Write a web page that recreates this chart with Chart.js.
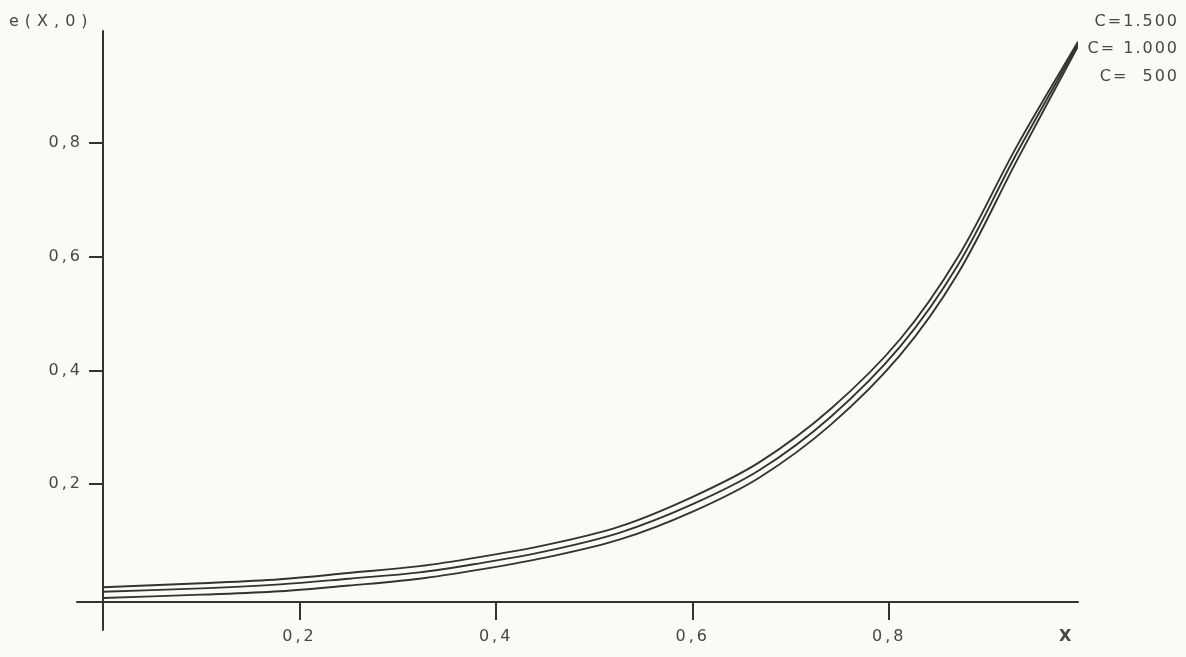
<!DOCTYPE html>
<html><head><meta charset="utf-8">
<script src="https://cdn.jsdelivr.net/npm/chart.js@4/dist/chart.umd.min.js"></script>
<style>
html,body{margin:0;padding:0;background:#fbfbf6;}
#wrap{width:1186px;height:657px;position:relative;}
</style>
</head><body>
<div id="wrap"><canvas id="c" width="1186" height="657"></canvas></div>
<script>
// ---- data ----
const xValues   = [0, 0.1, 0.18, 0.25, 0.322, 0.383, 0.45, 0.526, 0.6, 0.668, 0.74, 0.811, 0.87, 0.93, 0.992];
const seriesC1500 = [0.019, 0.026, 0.033, 0.044, 0.056, 0.072, 0.093, 0.126, 0.178, 0.239, 0.332, 0.455, 0.600, 0.795, 0.978];
const seriesC1000 = [0.011, 0.017, 0.024, 0.034, 0.045, 0.061, 0.082, 0.115, 0.165, 0.225, 0.318, 0.442, 0.586, 0.783, 0.974];
const seriesC500  = [0.000, 0.006, 0.012, 0.022, 0.034, 0.050, 0.071, 0.103, 0.152, 0.212, 0.304, 0.427, 0.571, 0.770, 0.970];
const seriesLabels = ['C=1.500', 'C= 1.000', 'C=  500'];
const xTicks = [0.2, 0.4, 0.6, 0.8];
const yTicks = [0.2, 0.4, 0.6, 0.8];
const yAxisTitle = 'e(X,0)';
const xAxisTitle = 'X';

const INK = '#333333';
const TEXT = '#474747';
const FONT = 'DejaVu Sans';
const fmt = v => Number(v).toFixed(1).replace('.', ',');
const toPts = ys => xValues.map((x, i) => ({x: x, y: ys[i]}));

const ds = (label, ys) => ({
  label: label, data: toPts(ys), borderColor: INK, borderWidth: 1.9,
  pointRadius: 0, fill: false, tension: 0.35
});

const spacing = {
  id: 'spacing',
  beforeInit(chart) { chart.ctx.letterSpacing = '3px'; },
  beforeDraw(chart) { chart.ctx.letterSpacing = '3px'; }
};

const decor = {
  id: 'decor',
  afterDraw(chart) {
    const {ctx, chartArea: a} = chart;
    ctx.save();
    ctx.strokeStyle = INK; ctx.lineWidth = 2; ctx.lineCap = 'round';
    // y axis
    ctx.beginPath(); ctx.moveTo(a.left, a.top); ctx.lineTo(a.left, a.bottom + 28); ctx.stroke();
    // x axis
    ctx.beginPath(); ctx.moveTo(a.left - 26, a.bottom); ctx.lineTo(a.right, a.bottom); ctx.stroke();
    ctx.fillStyle = TEXT;
    ctx.font = '16px "' + FONT + '"';
    ctx.textBaseline = 'middle';
    ctx.letterSpacing = '6px';
    ctx.textAlign = 'left';
    ctx.fillText(yAxisTitle, 9, 22);
    ctx.letterSpacing = '0px';
    ctx.font = 'bold 16px "' + FONT + '"';
    ctx.fillText(xAxisTitle, 1059, 637);
    ctx.font = '16px "' + FONT + '"';
    ctx.letterSpacing = '2px';
    ctx.textAlign = 'right';
    const ly = [22, 49, 77];
    seriesLabels.forEach((t, i) => ctx.fillText(t, 1179, ly[i]));
    ctx.restore();
  }
};

new Chart(document.getElementById('c'), {
  type: 'line',
  data: { datasets: [ds(seriesLabels[0], seriesC1500), ds(seriesLabels[1], seriesC1000), ds(seriesLabels[2], seriesC500)] },
  options: {
    responsive: false, animation: false, events: [],
    layout: { padding: { top: 31, right: 108, left: 0, bottom: 0 } },
    plugins: { legend: { display: false }, tooltip: { enabled: false } },
    scales: {
      x: {
        type: 'linear', min: 0, max: 0.992,
        afterBuildTicks: s => { s.ticks = xTicks.map(v => ({value: v})); },
        afterFit: s => { s.height = 55; },
        border: { display: false },
        grid: { drawOnChartArea: false, drawTicks: true, tickLength: 18, color: INK, lineWidth: 2 },
        ticks: { color: TEXT, padding: 7, maxRotation: 0, font: { family: FONT, size: 16 }, callback: v => fmt(v) }
      },
      y: {
        type: 'linear', min: -0.007, max: 0.997,
        afterBuildTicks: s => { s.ticks = yTicks.map(v => ({value: v})); },
        afterFit: s => { s.width = 103; },
        border: { display: false },
        grid: { drawOnChartArea: false, drawTicks: true, tickLength: 14, color: INK, lineWidth: 2 },
        ticks: { color: TEXT, padding: 6, font: { family: FONT, size: 16 }, callback: v => fmt(v) }
      }
    }
  },
  plugins: [spacing, decor]
});
</script>
</body></html>
